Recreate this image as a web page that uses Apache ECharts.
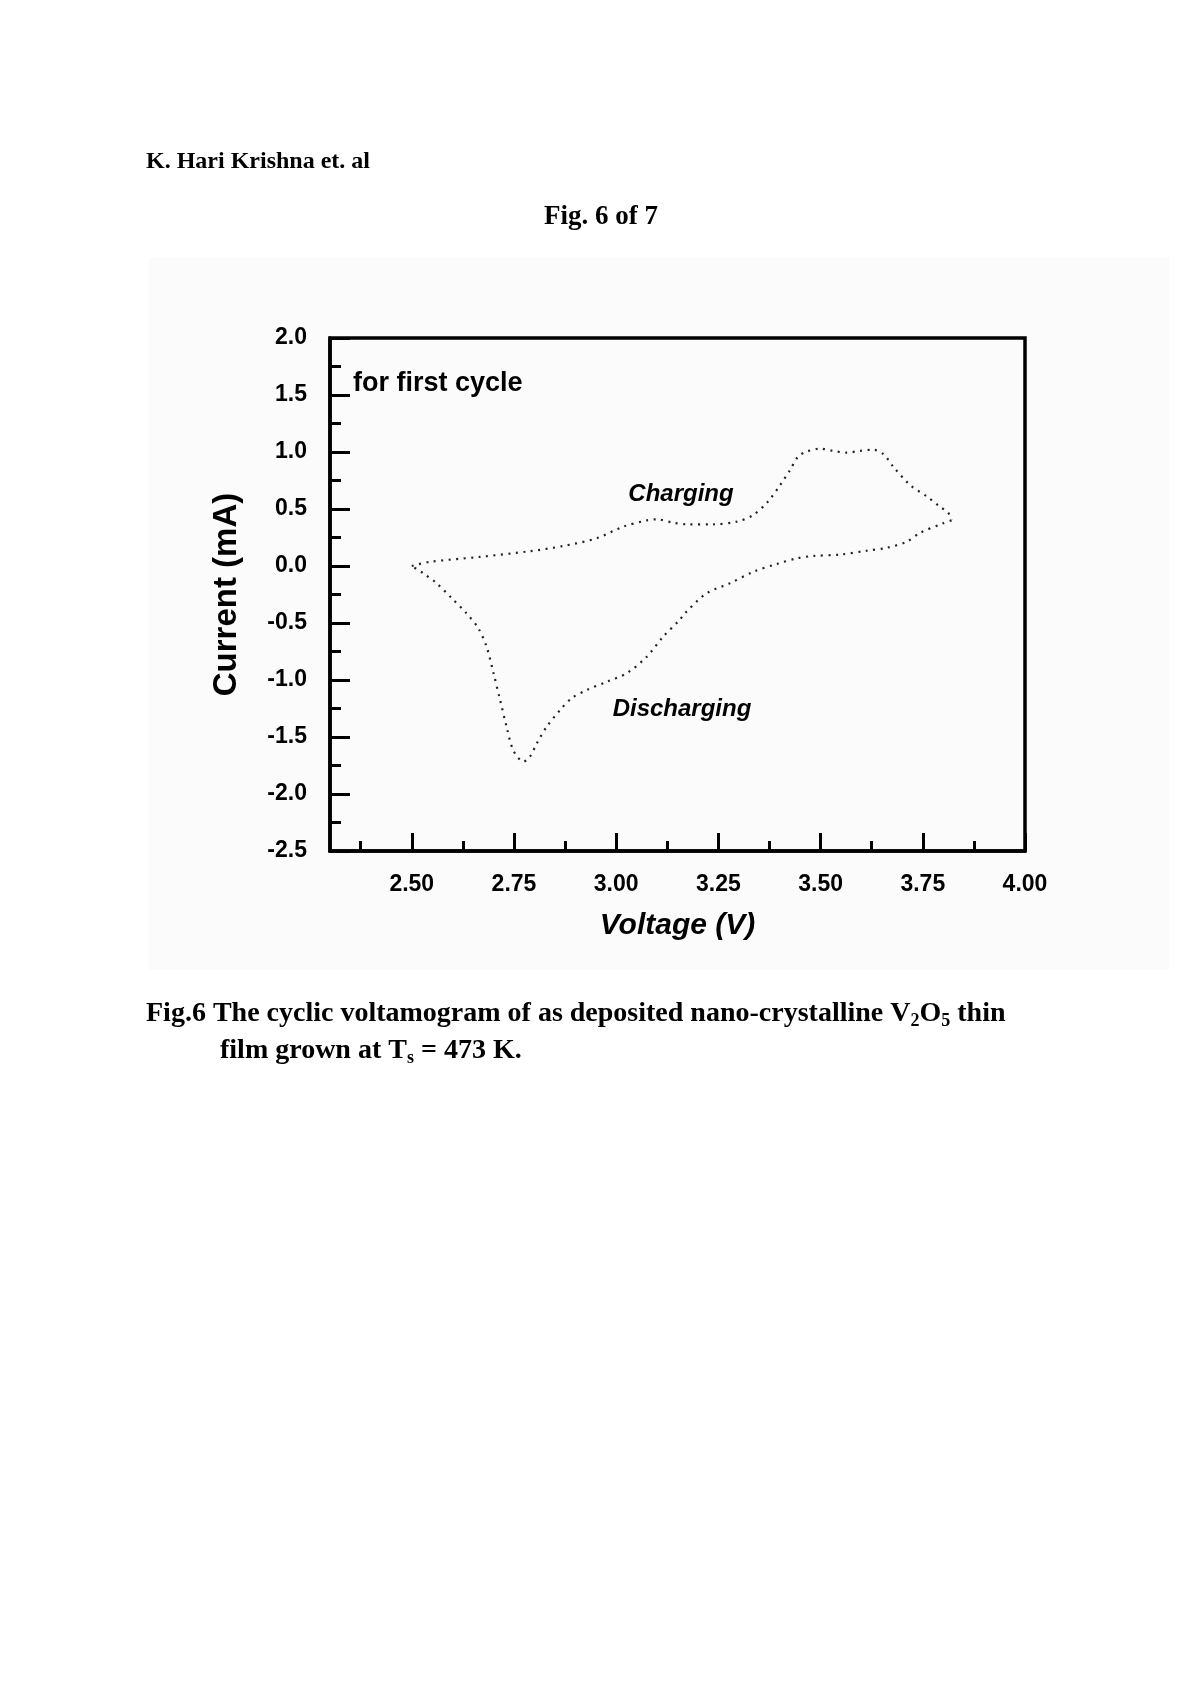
<!DOCTYPE html>
<html style="height: 100%">
<head>
<meta charset="utf-8">
</head>
<body style="height: 100%; margin: 0; background: #fff">
<div id="container" style="width: 1200px; height: 1698px"></div>
<script type="text/javascript" src="https://cdn.jsdelivr.net/npm/echarts@6/dist/echarts.min.js"></script>
<script type="text/javascript">
// charging branch: left vertex (2.50 V) -> right vertex (3.82 V)
var chargeV = [2.50, 2.545, 2.667, 2.789, 2.87, 2.952, 3.017, 3.075, 3.099, 3.139, 3.173, 3.237, 3.295, 3.335, 3.371, 3.401, 3.425, 3.445, 3.466, 3.499, 3.53, 3.564, 3.596, 3.628, 3.654, 3.678, 3.719, 3.76, 3.792, 3.812, 3.82];
var chargeI = [0.00, 0.037, 0.08, 0.13, 0.175, 0.243, 0.345, 0.40, 0.41, 0.38, 0.366, 0.366, 0.389, 0.447, 0.564, 0.71, 0.84, 0.96, 1.003, 1.03, 1.01, 0.994, 1.01, 1.02, 0.98, 0.87, 0.71, 0.61, 0.52, 0.467, 0.40];
// discharging branch: right vertex -> cathodic peak -> back to 2.50 V
var dischargeV = [3.82, 3.80, 3.743, 3.711, 3.662, 3.613, 3.548, 3.482, 3.442, 3.393, 3.336, 3.278, 3.221, 3.168, 3.156, 3.115, 3.075, 3.026, 2.977, 2.928, 2.891, 2.863, 2.830, 2.806, 2.789, 2.773, 2.748, 2.732, 2.716, 2.70, 2.683, 2.663, 2.634, 2.598, 2.561, 2.528, 2.50];
var dischargeI = [0.40, 0.375, 0.29, 0.213, 0.16, 0.134, 0.10, 0.088, 0.067, 0.018, -0.05, -0.152, -0.24, -0.415, -0.47, -0.62, -0.795, -0.94, -1.015, -1.088, -1.16, -1.263, -1.41, -1.555, -1.673, -1.717, -1.614, -1.41, -1.175, -0.94, -0.708, -0.547, -0.415, -0.283, -0.152, -0.064, 0.00];

var xMajor = [2.50, 2.75, 3.00, 3.25, 3.50, 3.75, 4.00];
var xMinor = [2.375, 2.625, 2.875, 3.125, 3.375, 3.625, 3.875];

function pairs(xs, ys) {
    var out = [];
    for (var i = 0; i < xs.length; i++) out.push([xs[i], ys[i]]);
    return out;
}

var dom = document.getElementById("container");
var myChart = echarts.init(dom, null, {renderer: 'canvas'});

var sans = '"Liberation Sans", Arial, sans-serif';
var serif = '"Liberation Serif", "Times New Roman", serif';

var option = {
    backgroundColor: '#ffffff',
    animation: false,
    grid: {
        left: 330, top: 338, width: 695, height: 513,
        show: true,
        borderColor: '#000',
        borderWidth: 3.5,
        backgroundColor: 'transparent'
    },
    xAxis: [{
        type: 'value',
        min: 2.3,
        max: 4.0,
        name: 'Voltage (V)',
        nameLocation: 'middle',
        nameGap: 60,
        nameTextStyle: {fontFamily: sans, fontSize: 30, fontWeight: 'bold', fontStyle: 'italic', color: '#000'},
        axisLine: {onZero: false, lineStyle: {color: '#000', width: 3.5}},
        axisTick: {inside: true, length: 18, customValues: xMajor, lineStyle: {color: '#000', width: 3}},
        axisLabel: {
            customValues: xMajor,
            margin: 22,
            fontFamily: sans, fontSize: 23, fontWeight: 'bold', color: '#000',
            formatter: function (v) { return v.toFixed(2); }
        },
        splitLine: {show: false}
    }, {
        // minor ticks only
        type: 'value',
        min: 2.3,
        max: 4.0,
        position: 'bottom',
        axisLine: {show: false, onZero: false},
        axisTick: {inside: true, length: 10, customValues: xMinor, lineStyle: {color: '#000', width: 3}},
        axisLabel: {show: false},
        splitLine: {show: false}
    }],
    yAxis: {
        type: 'value',
        min: -2.5,
        max: 2.0,
        interval: 0.5,
        name: 'Current (mA)',
        nameLocation: 'middle',
        nameGap: 87,
        nameTextStyle: {fontFamily: sans, fontSize: 33, fontWeight: 'bold', color: '#000'},
        axisLine: {onZero: false, lineStyle: {color: '#000', width: 3.5}},
        axisTick: {inside: true, length: 20, lineStyle: {color: '#000', width: 3}},
        minorTick: {show: true, splitNumber: 2, length: 11, lineStyle: {color: '#000', width: 3}},
        axisLabel: {
            margin: 23,
            fontFamily: sans, fontSize: 23, fontWeight: 'bold', color: '#000',
            formatter: function (v) { return v.toFixed(1); }
        },
        splitLine: {show: false}
    },
    graphic: [
        {type: 'rect', z: -10, silent: true, shape: {x: 149, y: 258, width: 1020, height: 712}, style: {fill: '#fbfbfb'}},
        {type: 'text', left: 146, top: 150, style: {text: 'K. Hari Krishna et. al', font: 'bold 24px ' + serif, fill: '#000'}},
        {type: 'text', x: 601, y: 217, style: {text: 'Fig. 6 of 7', font: 'bold 27px ' + serif, fill: '#000', align: 'center', verticalAlign: 'middle'}},
        {type: 'text', x: 353, y: 384, style: {text: 'for first cycle', font: 'bold 27px ' + sans, fill: '#000', verticalAlign: 'middle'}},
        {type: 'text', x: 681, y: 494, style: {text: 'Charging', font: 'italic bold 24px ' + sans, fill: '#000', align: 'center', verticalAlign: 'middle'}},
        {type: 'text', x: 682, y: 709, style: {text: 'Discharging', font: 'italic bold 24px ' + sans, fill: '#000', align: 'center', verticalAlign: 'middle'}},
        {type: 'text', x: 146, y: 1014, style: {
            text: '{a|Fig.6 The cyclic voltamogram of as deposited nano-crystalline V}{s|2}{a|O}{s|5}{a| thin}',
            verticalAlign: 'middle',
            rich: {
                a: {fontFamily: serif, fontSize: 28, fontWeight: 'bold', color: '#000', lineHeight: 32},
                s: {fontFamily: serif, fontSize: 18, fontWeight: 'bold', color: '#000', lineHeight: 18, verticalAlign: 'bottom'}
            }
        }},
        {type: 'text', x: 220, y: 1051, style: {
            text: '{a|film grown at T}{s|s}{a| = 473 K.}',
            verticalAlign: 'middle',
            rich: {
                a: {fontFamily: serif, fontSize: 28, fontWeight: 'bold', color: '#000', lineHeight: 32},
                s: {fontFamily: serif, fontSize: 18, fontWeight: 'bold', color: '#000', lineHeight: 18, verticalAlign: 'bottom'}
            }
        }}
    ],
    series: [{
        name: 'Charging',
        type: 'line',
        data: pairs(chargeV, chargeI),
        symbol: 'none',
        smooth: 0.3,
        lineStyle: {color: '#222', width: 2.2, type: [2, 5.5]}
    }, {
        name: 'Discharging',
        type: 'line',
        data: pairs(dischargeV, dischargeI),
        symbol: 'none',
        smooth: 0.3,
        lineStyle: {color: '#222', width: 2.2, type: [2, 5.5]}
    }]
};

myChart.setOption(option);
</script>
</body>
</html>
